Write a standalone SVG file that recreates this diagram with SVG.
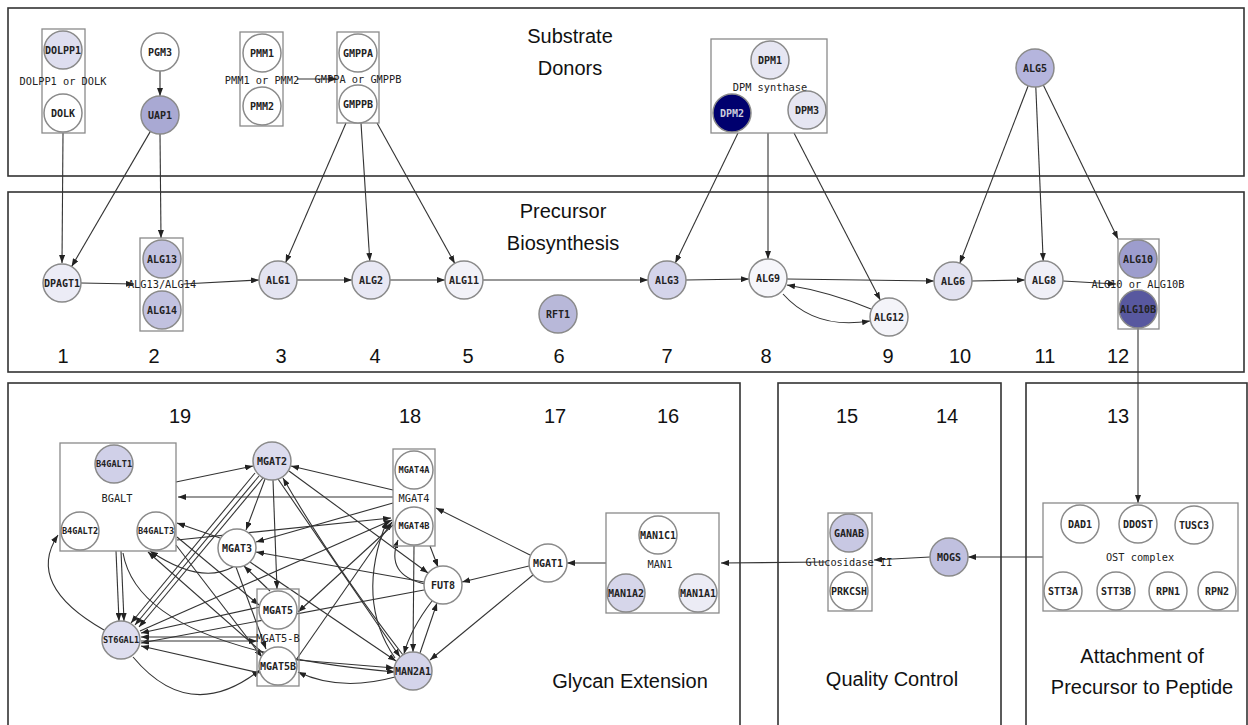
<svg xmlns="http://www.w3.org/2000/svg" width="1248" height="725" viewBox="0 0 1248 725">
<style>
.panel{fill:none;stroke:#333;stroke-width:1.6}
.box{fill:none;stroke:#8a8a8a;stroke-width:1.3}
.n{stroke:#8a8a8a;stroke-width:1.5}
.nl{font-family:"DejaVu Sans Mono",monospace;font-size:10px;font-weight:bold;fill:#222;text-anchor:middle;dominant-baseline:central}
.sm{font-size:8.6px}
.gl{font-family:"DejaVu Sans Mono",monospace;font-size:10.3px;fill:#222;text-anchor:middle;dominant-baseline:central}
.t{font-family:"Liberation Sans",Arial,sans-serif;font-size:20px;fill:#111;text-anchor:middle}
.e{fill:none;stroke:#333;stroke-width:1.1;marker-end:url(#ah)}
.l{fill:none;stroke:#333;stroke-width:1.1}
</style>
<defs>
<marker id="ah" markerWidth="8" markerHeight="6" refX="8" refY="3" orient="auto" markerUnits="userSpaceOnUse"><path d="M0,0 L8,3 L0,6 z" fill="#222"/></marker>
</defs>
<rect width="1248" height="725" fill="#fff"/>
<g id="panels">
<rect class="panel" x="8" y="8" width="1236" height="168"/>
<rect class="panel" x="8" y="192" width="1236" height="180"/>
<rect class="panel" x="8" y="383" width="732" height="360"/>
<rect class="panel" x="778" y="383" width="223" height="360"/>
<rect class="panel" x="1026" y="383" width="221" height="360"/>
</g>
<g id="titles">
<text class="t" x="570" y="43">Substrate</text>
<text class="t" x="570" y="75">Donors</text>
<text class="t" x="563" y="218">Precursor</text>
<text class="t" x="563" y="250">Biosynthesis</text>
<text class="t" x="630" y="688">Glycan Extension</text>
<text class="t" x="892" y="686">Quality Control</text>
<text class="t" x="1142" y="663">Attachment of</text>
<text class="t" x="1142" y="694">Precursor to Peptide</text>
</g>
<g id="numbers" class="t">
<text x="63" y="363">1</text><text x="154" y="363">2</text><text x="281" y="363">3</text><text x="375" y="363">4</text><text x="468" y="363">5</text><text x="559" y="363">6</text><text x="667" y="363">7</text><text x="766" y="363">8</text><text x="888" y="363">9</text><text x="960" y="363">10</text><text x="1045" y="363">11</text><text x="1118" y="363">12</text>
<text x="1118" y="423">13</text><text x="947" y="423">14</text><text x="847" y="423">15</text><text x="668" y="423">16</text><text x="555" y="423">17</text><text x="410" y="423">18</text><text x="180" y="423">19</text>
</g>
<g id="connectors">
<path class="e" d="M63,133 L62,263"/>
<path class="e" d="M150.4,131.4 L71.6,266.6"/>
<path class="e" d="M160,134 L161,238"/>
<path class="e" d="M160,71 L160,96"/>
<path class="e" d="M297,79 L337,79"/>
<path class="e" d="M346,123 L285.6,262.6"/>
<path class="e" d="M361,123 L369.8,261"/>
<path class="e" d="M377,123 L454.8,263.4"/>
<path class="e" d="M738,133 L675.3,262.9"/>
<path class="e" d="M768,133 L768,259"/>
<path class="e" d="M794,133 L880.3,300.1"/>
<path class="e" d="M1028.2,85.7 L959.8,263.3"/>
<path class="e" d="M1035.8,87 L1043.2,261"/>
<path class="e" d="M1043.3,85.1 L1118,239"/>
<path class="e" d="M81,283 L134,284"/>
<path class="e" d="M183,284 L259,280"/>
<path class="e" d="M297,280 L352,280"/>
<path class="e" d="M390,280 L445,280"/>
<path class="e" d="M483,280 L648,280"/>
<path class="e" d="M686,280 L749,279"/>
<path class="e" d="M787,279 L934,281"/>
<path class="e" d="M972,281 L1025,280"/>
<path class="e" d="M1063,281 L1116,284"/>
<path class="e" d="M871,309 Q830,292 787,285"/>
<path class="e" d="M783,294 Q815,330 870,321"/>
<path class="e" d="M1138,328 L1138,503"/>
<path class="e" d="M1043,557 L968,557"/>
<path class="e" d="M930,557 L874,560"/>
<path class="e" d="M826,562 L721,563"/>
<path class="e" d="M606,563 L567,563"/>
<path class="e" d="M530,555 L436,508"/>
<path class="e" d="M529,566 L462,582"/>
<path class="e" d="M533,575 L430,660"/>
<path class="e" d="M176,482 L253,466"/>
<path class="e" d="M393,497 L178,497"/>
<path class="e" d="M393,490 L291,466"/>
<path class="e" d="M265,479 L246,530"/>
<path class="e" d="M273,480 L277,589"/>
<path class="e" d="M255,473 L131,623"/>
<path class="e" d="M259,476 L135,625"/>
<path class="e" d="M263,478 L139,627"/>
<path class="e" d="M289,471 L428,573"/>
<path class="e" d="M278,479 L400,657"/>
<path class="e" d="M403,655 Q330,560 283,478"/>
<path class="e" d="M393,503 L256,542"/>
<path class="e" d="M140,631 L392,520"/>
<path class="e" d="M296,660 L392,522"/>
<path class="e" d="M177,540 L391,518"/>
<path class="e" d="M424,582 L256,552"/>
<path class="e" d="M424,590 L141,643"/>
<path class="e" d="M414,546 L413,652"/>
<path class="e" d="M430,546 L438,567"/>
<path class="e" d="M425,584 Q385,575 398,540"/>
<path class="e" d="M420,653 L437,603"/>
<path class="e" d="M432,601 Q410,630 404,654"/>
<path class="e" d="M297,660 L394,668"/>
<path class="e" d="M395,677 Q340,692 298,672"/>
<path class="e" d="M393,525 L298,612"/>
<path class="e" d="M220,538 L177,523"/>
<path class="e" d="M177,537 L259,605"/>
<path class="e" d="M176,545 L262,657"/>
<path class="e" d="M264,654 L148,552"/>
<path class="e" d="M233,567 Q200,585 150,551"/>
<path class="e" d="M116,551 L119,621"/>
<path class="e" d="M121,551 L124,621"/>
<path class="e" d="M123,553 Q140,650 395,672"/>
<path class="e" d="M104,630 Q25,585 58,535"/>
<path class="e" d="M257,637 L141,637"/>
<path class="e" d="M141,641 L257,641"/>
<path class="e" d="M260,607 L141,633"/>
<path class="e" d="M260,673 L141,646"/>
<path class="e" d="M133,657 Q190,725 260,670"/>
<path class="e" d="M250,562 L396,661"/>
<path class="e" d="M270,591 L244,566"/>
<path class="e" d="M236,567 L266,649"/>
<path class="e" d="M395,658 Q355,600 387,521"/>
</g>
<g id="g-dolpp-dolk"><rect class="box" x="42" y="29" width="43" height="104"/><text class="gl" x="63" y="81">DOLPP1 or DOLK</text></g>
<g id="n-dolpp1"><circle class="n" cx="63" cy="50" r="19" fill="#dedeef"/><text class="nl" x="63" y="50">DOLPP1</text></g>
<g id="n-dolk"><circle class="n" cx="63" cy="113" r="19" fill="#fff"/><text class="nl" x="63" y="113">DOLK</text></g>
<g id="n-pgm3"><circle class="n" cx="160" cy="52" r="19" fill="#fff"/><text class="nl" x="160" y="52">PGM3</text></g>
<g id="n-uap1"><circle class="n" cx="160" cy="115" r="19" fill="#a9a9d3"/><text class="nl" x="160" y="115">UAP1</text></g>
<g id="g-pmm"><rect class="box" x="240" y="32" width="43" height="94"/><text class="gl" x="262" y="80">PMM1 or PMM2</text></g>
<g id="n-pmm1"><circle class="n" cx="262" cy="53" r="19" fill="#fff"/><text class="nl" x="262" y="53">PMM1</text></g>
<g id="n-pmm2"><circle class="n" cx="262" cy="106" r="19" fill="#fff"/><text class="nl" x="262" y="106">PMM2</text></g>
<g id="g-gmpp"><rect class="box" x="337" y="32" width="42" height="91"/><text class="gl" x="358" y="79">GMPPA or GMPPB</text></g>
<g id="n-gmppa"><circle class="n" cx="358" cy="53" r="19" fill="#fff"/><text class="nl" x="358" y="53">GMPPA</text></g>
<g id="n-gmppb"><circle class="n" cx="358" cy="104" r="19" fill="#fff"/><text class="nl" x="358" y="104">GMPPB</text></g>
<g id="g-dpm"><rect class="box" x="711" y="39" width="116" height="94"/><text class="gl" x="770" y="87">DPM synthase</text></g>
<g id="n-dpm1"><circle class="n" cx="770" cy="60" r="19" fill="#e6e6f2"/><text class="nl" x="770" y="60">DPM1</text></g>
<g id="n-dpm2"><circle class="n" cx="732" cy="113" r="19" fill="#00006e"/><text class="nl" x="732" y="113" style="fill:#ccd">DPM2</text></g>
<g id="n-dpm3"><circle class="n" cx="807" cy="110" r="19" fill="#e6e6f2"/><text class="nl" x="807" y="110">DPM3</text></g>
<g id="n-alg5"><circle class="n" cx="1035" cy="68" r="19" fill="#b5b5dd"/><text class="nl" x="1035" y="68">ALG5</text></g>
<g id="n-dpagt1"><circle class="n" cx="62" cy="283" r="19" fill="#ececf6"/><text class="nl" x="62" y="283">DPAGT1</text></g>
<g id="g-alg13-14"><rect class="box" x="140" y="238" width="43" height="93"/><text class="gl" x="162" y="284">ALG13/ALG14</text></g>
<g id="n-alg13"><circle class="n" cx="162" cy="259" r="19" fill="#c2c2e0"/><text class="nl" x="162" y="259">ALG13</text></g>
<g id="n-alg14"><circle class="n" cx="162" cy="310" r="19" fill="#c2c2e0"/><text class="nl" x="162" y="310">ALG14</text></g>
<g id="n-alg1"><circle class="n" cx="278" cy="280" r="19" fill="#e4e4f1"/><text class="nl" x="278" y="280">ALG1</text></g>
<g id="n-alg2"><circle class="n" cx="371" cy="280" r="19" fill="#e8e8f4"/><text class="nl" x="371" y="280">ALG2</text></g>
<g id="n-alg11"><circle class="n" cx="464" cy="280" r="19" fill="#f2f2f8"/><text class="nl" x="464" y="280">ALG11</text></g>
<g id="n-rft1"><circle class="n" cx="558" cy="314" r="19" fill="#b8b8d9"/><text class="nl" x="558" y="314">RFT1</text></g>
<g id="n-alg3"><circle class="n" cx="667" cy="280" r="19" fill="#d4d4ea"/><text class="nl" x="667" y="280">ALG3</text></g>
<g id="n-alg9"><circle class="n" cx="768" cy="278" r="19" fill="#f6f6fa"/><text class="nl" x="768" y="278">ALG9</text></g>
<g id="n-alg12"><circle class="n" cx="889" cy="317" r="19" fill="#f4f4f9"/><text class="nl" x="889" y="317">ALG12</text></g>
<g id="n-alg6"><circle class="n" cx="953" cy="281" r="19" fill="#e2e2f0"/><text class="nl" x="953" y="281">ALG6</text></g>
<g id="n-alg8"><circle class="n" cx="1044" cy="280" r="19" fill="#f0f0f7"/><text class="nl" x="1044" y="280">ALG8</text></g>
<g id="g-alg10"><rect class="box" x="1118" y="239" width="41" height="90"/><text class="gl" x="1138" y="284">ALG10 or ALG10B</text></g>
<g id="n-alg10"><circle class="n" cx="1138" cy="259" r="19" fill="#9d9dcd"/><text class="nl" x="1138" y="259">ALG10</text></g>
<g id="n-alg10b"><circle class="n" cx="1138" cy="309" r="19" fill="#58589f"/><text class="nl" x="1138" y="309">ALG10B</text></g>
<g id="g-bgalt"><rect class="box" x="60" y="443" width="116" height="108"/><text class="gl" x="117" y="498">BGALT</text></g>
<g id="n-b4galt1"><circle class="n" cx="114" cy="464" r="19" fill="#d0d0e8"/><text class="nl sm" x="114" y="464">B4GALT1</text></g>
<g id="n-b4galt2"><circle class="n" cx="80" cy="531" r="19" fill="#fff"/><text class="nl sm" x="80" y="531">B4GALT2</text></g>
<g id="n-b4galt3"><circle class="n" cx="156" cy="531" r="19" fill="#fff"/><text class="nl sm" x="156" y="531">B4GALT3</text></g>
<g id="n-mgat2"><circle class="n" cx="272" cy="461" r="19" fill="#dcdcee"/><text class="nl" x="272" y="461">MGAT2</text></g>
<g id="n-mgat3"><circle class="n" cx="237" cy="548" r="19" fill="#fff"/><text class="nl" x="237" y="548">MGAT3</text></g>
<g id="g-mgat4"><rect class="box" x="393" y="449" width="42" height="97"/><text class="gl" x="414" y="498">MGAT4</text></g>
<g id="n-mgat4a"><circle class="n" cx="414" cy="470" r="19" fill="#fff"/><text class="nl sm" x="414" y="470">MGAT4A</text></g>
<g id="n-mgat4b"><circle class="n" cx="414" cy="526" r="19" fill="#fff"/><text class="nl sm" x="414" y="526">MGAT4B</text></g>
<g id="n-fut8"><circle class="n" cx="443" cy="585" r="19" fill="#fff"/><text class="nl" x="443" y="585">FUT8</text></g>
<g id="g-mgat5"><rect class="box" x="257" y="589" width="42" height="97"/><text class="gl" x="278" y="638">MGAT5-B</text></g>
<g id="n-mgat5"><circle class="n" cx="278" cy="610" r="19" fill="#fff"/><text class="nl" x="278" y="610">MGAT5</text></g>
<g id="n-mgat5b"><circle class="n" cx="278" cy="666" r="19" fill="#fff"/><text class="nl" x="278" y="666">MGAT5B</text></g>
<g id="n-man2a1"><circle class="n" cx="413" cy="671" r="19" fill="#d4d4ea"/><text class="nl" x="413" y="671">MAN2A1</text></g>
<g id="n-st6gal1"><circle class="n" cx="121" cy="640" r="19" fill="#dedeef"/><text class="nl sm" x="121" y="640">ST6GAL1</text></g>
<g id="n-mgat1"><circle class="n" cx="548" cy="563" r="19" fill="#fff"/><text class="nl" x="548" y="563">MGAT1</text></g>
<g id="g-man1"><rect class="box" x="606" y="513" width="113" height="100"/><text class="gl" x="660" y="564">MAN1</text></g>
<g id="n-man1c1"><circle class="n" cx="658" cy="535" r="19" fill="#fff"/><text class="nl" x="658" y="535">MAN1C1</text></g>
<g id="n-man1a2"><circle class="n" cx="626" cy="593" r="19" fill="#d6d6ea"/><text class="nl" x="626" y="593">MAN1A2</text></g>
<g id="n-man1a1"><circle class="n" cx="698" cy="593" r="19" fill="#ececf5"/><text class="nl" x="698" y="593">MAN1A1</text></g>
<g id="g-glucosidase"><rect class="box" x="828" y="513" width="44" height="98"/><text class="gl" x="849" y="562">Glucosidase II</text></g>
<g id="n-ganab"><circle class="n" cx="849" cy="533" r="19" fill="#c8c8e3"/><text class="nl" x="849" y="533">GANAB</text></g>
<g id="n-prkcsh"><circle class="n" cx="849" cy="591" r="19" fill="#fff"/><text class="nl" x="849" y="591">PRKCSH</text></g>
<g id="n-mogs"><circle class="n" cx="949" cy="557" r="19" fill="#c0c0df"/><text class="nl" x="949" y="557">MOGS</text></g>
<g id="g-ost"><rect class="box" x="1043" y="503" width="195" height="108"/><text class="gl" x="1140" y="557">OST complex</text></g>
<g id="n-dad1"><circle class="n" cx="1080" cy="524" r="19" fill="#fff"/><text class="nl" x="1080" y="524">DAD1</text></g>
<g id="n-ddost"><circle class="n" cx="1138" cy="524" r="19" fill="#fff"/><text class="nl" x="1138" y="524">DDOST</text></g>
<g id="n-tusc3"><circle class="n" cx="1194" cy="525" r="19" fill="#fff"/><text class="nl" x="1194" y="525">TUSC3</text></g>
<g id="n-stt3a"><circle class="n" cx="1063" cy="591" r="19" fill="#fff"/><text class="nl" x="1063" y="591">STT3A</text></g>
<g id="n-stt3b"><circle class="n" cx="1116" cy="591" r="19" fill="#fff"/><text class="nl" x="1116" y="591">STT3B</text></g>
<g id="n-rpn1"><circle class="n" cx="1168" cy="591" r="19" fill="#fff"/><text class="nl" x="1168" y="591">RPN1</text></g>
<g id="n-rpn2"><circle class="n" cx="1217" cy="591" r="19" fill="#fff"/><text class="nl" x="1217" y="591">RPN2</text></g>
</svg>
